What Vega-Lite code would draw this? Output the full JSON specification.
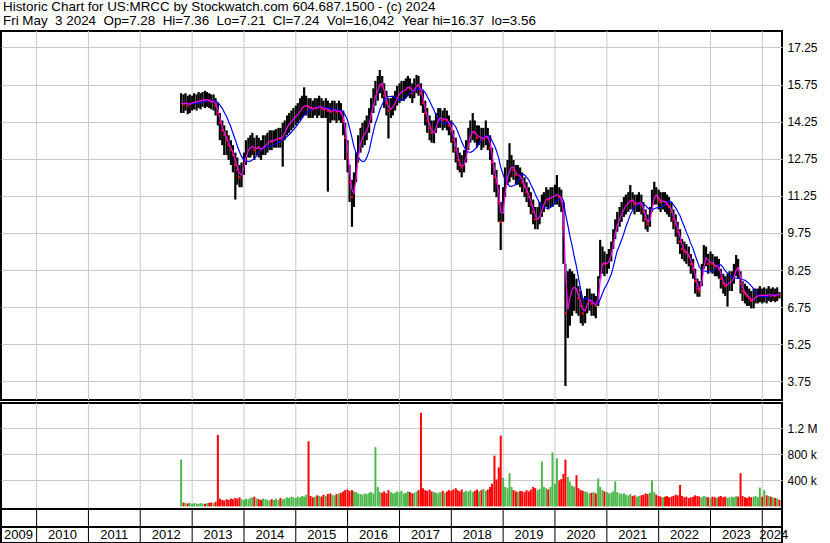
{
"$schema":"https://vega.github.io/schema/vega-lite/v6.json",
"padding":0,
"background":"white",
"bounds":"flush",
"config":{"view":{"stroke":"black","strokeWidth":2},"font":"Liberation Sans","axis":{"labelFont":"Liberation Sans","labelFontSize":12,"labelColor":"black","gridColor":"#c8c8c8","gridOpacity":1,"ticks":false,"domain":false,"title":null}},
"title":{"text":["Historic Chart for US:MRCC by Stockwatch.com 604.687.1500 - (c) 2024","Fri May\u00a0\u00a03 2024\u00a0\u00a0Op=7.28\u00a0\u00a0Hi=7.36\u00a0\u00a0Lo=7.21\u00a0\u00a0Cl=7.24\u00a0\u00a0Vol=16,042\u00a0\u00a0Year hi=16.37\u00a0\u00a0lo=3.56"],"anchor":"start","frame":"bounds","fontSize":13.4,"fontWeight":"normal","font":"Liberation Sans","color":"black","lineHeight":14,"offset":2,"dx":3},
"datasets":{
"px":[
{"d":"2012-10-15","h":15.4,"l":14.6,"c":15.0,"v":720000},
{"d":"2012-11-01","h":15.35,"l":14.6,"c":14.95,"v":60000},
{"d":"2012-11-15","h":15.4,"l":14.7,"c":15.05,"v":50000},
{"d":"2012-12-01","h":15.3,"l":14.55,"c":14.9,"v":45000},
{"d":"2012-12-15","h":15.35,"l":14.6,"c":15.0,"v":55000},
{"d":"2013-01-01","h":15.3,"l":14.7,"c":15.0,"v":40000},
{"d":"2013-01-15","h":15.4,"l":14.75,"c":15.05,"v":50000},
{"d":"2013-02-01","h":15.35,"l":14.7,"c":15.05,"v":45000},
{"d":"2013-02-15","h":15.45,"l":14.8,"c":15.1,"v":40000},
{"d":"2013-03-01","h":15.4,"l":14.75,"c":15.1,"v":50000},
{"d":"2013-03-15","h":15.45,"l":14.85,"c":15.15,"v":45000},
{"d":"2013-04-01","h":15.5,"l":14.8,"c":15.12,"v":40000},
{"d":"2013-04-15","h":15.45,"l":14.85,"c":15.15,"v":50000},
{"d":"2013-05-01","h":15.4,"l":14.8,"c":15.1,"v":55000},
{"d":"2013-05-15","h":15.35,"l":14.75,"c":15.05,"v":60000},
{"d":"2013-06-01","h":15.35,"l":14.7,"c":15.08,"v":50000},
{"d":"2013-06-15","h":15.2,"l":14.5,"c":14.9,"v":70000},
{"d":"2013-07-01","h":15.0,"l":14.1,"c":14.6,"v":1100000},
{"d":"2013-07-15","h":14.6,"l":13.5,"c":14.2,"v":120000},
{"d":"2013-08-01","h":14.3,"l":13.3,"c":13.9,"v":100000},
{"d":"2013-08-15","h":14.1,"l":12.9,"c":13.7,"v":90000},
{"d":"2013-09-01","h":13.9,"l":12.9,"c":13.5,"v":110000},
{"d":"2013-09-15","h":13.7,"l":12.7,"c":13.3,"v":100000},
{"d":"2013-10-01","h":13.5,"l":12.5,"c":13.1,"v":120000},
{"d":"2013-10-15","h":13.3,"l":12.2,"c":12.9,"v":110000},
{"d":"2013-11-01","h":13.0,"l":11.1,"c":12.5,"v":130000},
{"d":"2013-11-15","h":12.8,"l":11.7,"c":12.3,"v":120000},
{"d":"2013-12-01","h":12.5,"l":11.6,"c":12.0,"v":140000},
{"d":"2013-12-15","h":12.6,"l":11.6,"c":12.2,"v":110000},
{"d":"2014-01-01","h":13.0,"l":12.1,"c":12.6,"v":100000},
{"d":"2014-01-15","h":13.5,"l":12.5,"c":13.0,"v":120000},
{"d":"2014-02-01","h":13.6,"l":12.8,"c":13.2,"v":110000},
{"d":"2014-02-15","h":13.7,"l":12.8,"c":13.2,"v":130000},
{"d":"2014-03-01","h":13.8,"l":12.9,"c":13.3,"v":140000},
{"d":"2014-03-15","h":13.6,"l":12.7,"c":13.1,"v":150000},
{"d":"2014-04-01","h":13.7,"l":12.9,"c":13.25,"v":120000},
{"d":"2014-04-15","h":13.6,"l":12.8,"c":13.2,"v":110000},
{"d":"2014-05-01","h":13.5,"l":12.7,"c":13.1,"v":100000},
{"d":"2014-05-15","h":13.7,"l":12.9,"c":13.25,"v":120000},
{"d":"2014-06-01","h":13.7,"l":12.9,"c":13.3,"v":110000},
{"d":"2014-06-15","h":13.8,"l":13.0,"c":13.4,"v":100000},
{"d":"2014-07-01","h":13.9,"l":13.1,"c":13.5,"v":90000},
{"d":"2014-07-15","h":13.9,"l":13.1,"c":13.45,"v":110000},
{"d":"2014-08-01","h":13.9,"l":13.2,"c":13.5,"v":100000},
{"d":"2014-08-15","h":13.95,"l":13.2,"c":13.55,"v":120000},
{"d":"2014-09-01","h":14.0,"l":13.2,"c":13.6,"v":100000},
{"d":"2014-09-15","h":14.0,"l":13.2,"c":13.55,"v":130000},
{"d":"2014-10-01","h":14.2,"l":12.43,"c":13.7,"v":110000},
{"d":"2014-10-15","h":14.3,"l":13.5,"c":13.9,"v":120000},
{"d":"2014-11-01","h":14.5,"l":13.7,"c":14.1,"v":140000},
{"d":"2014-11-15","h":14.6,"l":13.8,"c":14.2,"v":130000},
{"d":"2014-12-01","h":14.7,"l":13.9,"c":14.3,"v":150000},
{"d":"2014-12-15","h":14.8,"l":14.0,"c":14.4,"v":140000},
{"d":"2015-01-01","h":14.9,"l":14.1,"c":14.5,"v":130000},
{"d":"2015-01-15","h":15.0,"l":14.2,"c":14.6,"v":150000},
{"d":"2015-02-01","h":15.2,"l":14.3,"c":14.75,"v":140000},
{"d":"2015-02-15","h":15.3,"l":14.4,"c":14.85,"v":160000},
{"d":"2015-03-01","h":15.64,"l":14.5,"c":14.9,"v":150000},
{"d":"2015-03-15","h":15.3,"l":14.5,"c":14.9,"v":180000},
{"d":"2015-04-01","h":15.2,"l":14.4,"c":14.85,"v":1000000},
{"d":"2015-04-15","h":15.2,"l":14.4,"c":14.8,"v":160000},
{"d":"2015-05-01","h":15.1,"l":14.4,"c":14.75,"v":140000},
{"d":"2015-05-15","h":15.2,"l":14.5,"c":14.85,"v":150000},
{"d":"2015-06-01","h":15.2,"l":14.4,"c":14.8,"v":170000},
{"d":"2015-06-15","h":15.3,"l":14.5,"c":14.9,"v":160000},
{"d":"2015-07-01","h":15.2,"l":14.4,"c":14.8,"v":150000},
{"d":"2015-07-15","h":15.1,"l":14.4,"c":14.75,"v":180000},
{"d":"2015-08-01","h":15.2,"l":14.4,"c":14.8,"v":160000},
{"d":"2015-08-15","h":15.1,"l":11.42,"c":14.7,"v":190000},
{"d":"2015-09-01","h":15.0,"l":14.2,"c":14.65,"v":200000},
{"d":"2015-09-15","h":15.1,"l":14.3,"c":14.7,"v":180000},
{"d":"2015-10-01","h":15.1,"l":14.3,"c":14.75,"v":170000},
{"d":"2015-10-15","h":15.0,"l":14.2,"c":14.65,"v":190000},
{"d":"2015-11-01","h":15.1,"l":14.3,"c":14.7,"v":200000},
{"d":"2015-11-15","h":15.0,"l":14.2,"c":14.6,"v":210000},
{"d":"2015-12-01","h":14.7,"l":13.7,"c":14.3,"v":230000},
{"d":"2015-12-15","h":14.2,"l":12.7,"c":13.6,"v":250000},
{"d":"2016-01-01","h":13.5,"l":12.2,"c":12.8,"v":260000},
{"d":"2016-01-15","h":12.5,"l":11.0,"c":11.8,"v":240000},
{"d":"2016-02-01","h":11.9,"l":10.0,"c":11.2,"v":250000},
{"d":"2016-02-15","h":12.2,"l":10.8,"c":11.5,"v":230000},
{"d":"2016-03-01","h":13.0,"l":11.8,"c":12.4,"v":220000},
{"d":"2016-03-15","h":13.7,"l":12.6,"c":13.2,"v":200000},
{"d":"2016-04-01","h":14.0,"l":13.0,"c":13.5,"v":190000},
{"d":"2016-04-15","h":14.2,"l":13.2,"c":13.7,"v":180000},
{"d":"2016-05-01","h":14.3,"l":13.3,"c":13.8,"v":200000},
{"d":"2016-05-15","h":14.5,"l":13.5,"c":14.0,"v":190000},
{"d":"2016-06-01","h":14.8,"l":13.8,"c":14.3,"v":210000},
{"d":"2016-06-15","h":15.2,"l":14.2,"c":14.7,"v":220000},
{"d":"2016-07-01","h":15.6,"l":14.6,"c":15.1,"v":200000},
{"d":"2016-07-15","h":15.9,"l":14.9,"c":15.4,"v":910000},
{"d":"2016-08-01","h":16.1,"l":15.1,"c":15.6,"v":300000},
{"d":"2016-08-15","h":16.34,"l":15.4,"c":15.9,"v":220000},
{"d":"2016-09-01","h":16.1,"l":15.2,"c":15.7,"v":210000},
{"d":"2016-09-15","h":15.8,"l":14.8,"c":15.3,"v":230000},
{"d":"2016-10-01","h":15.5,"l":14.5,"c":15.0,"v":200000},
{"d":"2016-10-15","h":15.2,"l":13.57,"c":14.7,"v":250000},
{"d":"2016-11-01","h":15.2,"l":14.4,"c":14.8,"v":220000},
{"d":"2016-11-15","h":15.3,"l":14.5,"c":14.9,"v":200000},
{"d":"2016-12-01","h":15.5,"l":14.7,"c":15.1,"v":210000},
{"d":"2016-12-15","h":15.7,"l":14.9,"c":15.3,"v":230000},
{"d":"2017-01-01","h":15.8,"l":15.0,"c":15.4,"v":220000},
{"d":"2017-01-15","h":15.9,"l":15.1,"c":15.5,"v":240000},
{"d":"2017-02-01","h":15.9,"l":15.1,"c":15.5,"v":200000},
{"d":"2017-02-15","h":16.0,"l":15.2,"c":15.6,"v":210000},
{"d":"2017-03-01","h":16.1,"l":15.3,"c":15.7,"v":230000},
{"d":"2017-03-15","h":16.0,"l":15.2,"c":15.6,"v":220000},
{"d":"2017-04-01","h":15.8,"l":15.0,"c":15.4,"v":200000},
{"d":"2017-04-15","h":16.0,"l":15.2,"c":15.6,"v":210000},
{"d":"2017-05-01","h":16.14,"l":15.4,"c":15.8,"v":230000},
{"d":"2017-05-15","h":16.1,"l":15.3,"c":15.7,"v":250000},
{"d":"2017-06-01","h":15.8,"l":14.9,"c":15.4,"v":1440000},
{"d":"2017-06-15","h":15.5,"l":14.6,"c":15.0,"v":280000},
{"d":"2017-07-01","h":15.1,"l":14.1,"c":14.6,"v":250000},
{"d":"2017-07-15","h":14.8,"l":13.8,"c":14.3,"v":240000},
{"d":"2017-08-01","h":14.5,"l":13.5,"c":14.0,"v":260000},
{"d":"2017-08-15","h":14.3,"l":13.4,"c":13.8,"v":230000},
{"d":"2017-09-01","h":14.3,"l":13.38,"c":13.8,"v":220000},
{"d":"2017-09-15","h":14.6,"l":13.8,"c":14.2,"v":210000},
{"d":"2017-10-01","h":14.8,"l":14.0,"c":14.4,"v":200000},
{"d":"2017-10-15","h":14.8,"l":14.0,"c":14.4,"v":220000},
{"d":"2017-11-01","h":14.7,"l":13.9,"c":14.3,"v":240000},
{"d":"2017-11-15","h":14.8,"l":14.0,"c":14.4,"v":210000},
{"d":"2017-12-01","h":14.7,"l":13.9,"c":14.3,"v":230000},
{"d":"2017-12-15","h":14.5,"l":13.7,"c":14.1,"v":250000},
{"d":"2018-01-01","h":14.3,"l":13.4,"c":13.9,"v":240000},
{"d":"2018-01-15","h":13.9,"l":13.0,"c":13.5,"v":260000},
{"d":"2018-02-01","h":13.6,"l":12.6,"c":13.1,"v":280000},
{"d":"2018-02-15","h":13.2,"l":12.3,"c":12.7,"v":250000},
{"d":"2018-03-01","h":13.0,"l":12.2,"c":12.5,"v":230000},
{"d":"2018-03-15","h":12.9,"l":12.0,"c":12.4,"v":260000},
{"d":"2018-04-01","h":13.1,"l":12.2,"c":12.6,"v":220000},
{"d":"2018-04-15","h":13.5,"l":12.6,"c":13.0,"v":240000},
{"d":"2018-05-01","h":14.0,"l":13.1,"c":13.5,"v":230000},
{"d":"2018-05-15","h":14.3,"l":13.4,"c":13.8,"v":250000},
{"d":"2018-06-01","h":14.6,"l":13.5,"c":13.9,"v":220000},
{"d":"2018-06-15","h":14.3,"l":13.4,"c":13.8,"v":240000},
{"d":"2018-07-01","h":14.1,"l":13.2,"c":13.6,"v":260000},
{"d":"2018-07-15","h":14.1,"l":13.3,"c":13.7,"v":230000},
{"d":"2018-08-01","h":14.0,"l":13.1,"c":13.5,"v":250000},
{"d":"2018-08-15","h":14.0,"l":13.2,"c":13.6,"v":270000},
{"d":"2018-09-01","h":14.3,"l":13.3,"c":13.7,"v":240000},
{"d":"2018-09-15","h":14.0,"l":13.1,"c":13.6,"v":260000},
{"d":"2018-10-01","h":13.7,"l":12.7,"c":13.2,"v":300000},
{"d":"2018-10-15","h":13.2,"l":12.1,"c":12.6,"v":350000},
{"d":"2018-11-01","h":12.6,"l":11.4,"c":12.0,"v":780000},
{"d":"2018-11-15","h":12.3,"l":11.2,"c":11.8,"v":415000},
{"d":"2018-12-01","h":11.7,"l":10.2,"c":11.0,"v":600000},
{"d":"2018-12-15","h":11.0,"l":9.06,"c":10.2,"v":1090000},
{"d":"2019-01-01","h":11.6,"l":10.2,"c":10.9,"v":440000},
{"d":"2019-01-15","h":12.4,"l":11.2,"c":11.8,"v":300000},
{"d":"2019-02-01","h":12.7,"l":11.7,"c":12.2,"v":280000},
{"d":"2019-02-15","h":13.38,"l":11.8,"c":12.3,"v":510000},
{"d":"2019-03-01","h":12.9,"l":12.0,"c":12.5,"v":300000},
{"d":"2019-03-15","h":12.7,"l":11.9,"c":12.3,"v":250000},
{"d":"2019-04-01","h":12.5,"l":11.7,"c":12.1,"v":230000},
{"d":"2019-04-15","h":12.5,"l":11.7,"c":12.1,"v":220000},
{"d":"2019-05-01","h":12.4,"l":11.6,"c":12.0,"v":240000},
{"d":"2019-05-15","h":12.2,"l":11.4,"c":11.8,"v":230000},
{"d":"2019-06-01","h":12.0,"l":11.2,"c":11.6,"v":220000},
{"d":"2019-06-15","h":11.8,"l":11.0,"c":11.4,"v":250000},
{"d":"2019-07-01","h":11.6,"l":10.8,"c":11.2,"v":230000},
{"d":"2019-07-15","h":11.4,"l":10.5,"c":10.9,"v":260000},
{"d":"2019-08-01","h":11.1,"l":10.1,"c":10.6,"v":300000},
{"d":"2019-08-15","h":10.8,"l":9.9,"c":10.3,"v":280000},
{"d":"2019-09-01","h":10.8,"l":9.9,"c":10.3,"v":250000},
{"d":"2019-09-15","h":11.0,"l":10.1,"c":10.5,"v":270000},
{"d":"2019-10-01","h":11.3,"l":10.4,"c":10.8,"v":690000},
{"d":"2019-10-15","h":11.4,"l":10.6,"c":11.0,"v":300000},
{"d":"2019-11-01","h":11.6,"l":10.8,"c":11.2,"v":280000},
{"d":"2019-11-15","h":11.5,"l":10.7,"c":11.1,"v":260000},
{"d":"2019-12-01","h":11.6,"l":10.8,"c":11.2,"v":300000},
{"d":"2019-12-15","h":11.6,"l":10.8,"c":11.2,"v":830000},
{"d":"2020-01-01","h":11.7,"l":10.9,"c":11.3,"v":350000},
{"d":"2020-01-15","h":12.09,"l":10.9,"c":11.3,"v":740000},
{"d":"2020-02-01","h":11.6,"l":10.8,"c":11.2,"v":400000},
{"d":"2020-02-15","h":11.5,"l":10.6,"c":11.1,"v":420000},
{"d":"2020-03-01","h":11.0,"l":8.5,"c":10.0,"v":500000},
{"d":"2020-03-15","h":8.5,"l":3.56,"c":6.5,"v":720000},
{"d":"2020-04-01","h":8.2,"l":5.5,"c":6.8,"v":450000},
{"d":"2020-04-15","h":8.3,"l":6.0,"c":7.4,"v":380000},
{"d":"2020-05-01","h":8.2,"l":6.4,"c":7.5,"v":320000},
{"d":"2020-05-15","h":8.1,"l":6.6,"c":7.6,"v":300000},
{"d":"2020-06-01","h":7.9,"l":6.5,"c":7.4,"v":480000},
{"d":"2020-06-15","h":7.6,"l":6.4,"c":7.1,"v":280000},
{"d":"2020-07-01","h":7.4,"l":6.1,"c":6.8,"v":250000},
{"d":"2020-07-15","h":7.1,"l":6.0,"c":6.5,"v":240000},
{"d":"2020-08-01","h":7.2,"l":6.1,"c":6.7,"v":230000},
{"d":"2020-08-15","h":7.5,"l":6.5,"c":7.0,"v":220000},
{"d":"2020-09-01","h":7.5,"l":6.6,"c":7.1,"v":200000},
{"d":"2020-09-15","h":7.3,"l":6.4,"c":6.9,"v":210000},
{"d":"2020-10-01","h":7.3,"l":6.4,"c":6.9,"v":220000},
{"d":"2020-10-15","h":7.2,"l":6.3,"c":6.8,"v":200000},
{"d":"2020-11-01","h":8.0,"l":6.8,"c":7.3,"v":430000},
{"d":"2020-11-15","h":9.47,"l":7.9,"c":8.4,"v":300000},
{"d":"2020-12-01","h":9.2,"l":8.1,"c":8.6,"v":250000},
{"d":"2020-12-15","h":9.0,"l":8.0,"c":8.5,"v":230000},
{"d":"2021-01-01","h":8.9,"l":8.1,"c":8.5,"v":220000},
{"d":"2021-01-15","h":9.1,"l":8.3,"c":8.7,"v":200000},
{"d":"2021-02-01","h":9.4,"l":8.6,"c":9.0,"v":210000},
{"d":"2021-02-15","h":9.9,"l":9.1,"c":9.5,"v":230000},
{"d":"2021-03-01","h":10.3,"l":9.5,"c":9.9,"v":385000},
{"d":"2021-03-15","h":10.6,"l":9.8,"c":10.2,"v":220000},
{"d":"2021-04-01","h":10.8,"l":10.0,"c":10.4,"v":200000},
{"d":"2021-04-15","h":11.0,"l":10.2,"c":10.6,"v":190000},
{"d":"2021-05-01","h":11.2,"l":10.4,"c":10.8,"v":200000},
{"d":"2021-05-15","h":11.3,"l":10.5,"c":10.9,"v":180000},
{"d":"2021-06-01","h":11.4,"l":10.6,"c":11.0,"v":170000},
{"d":"2021-06-15","h":11.69,"l":10.7,"c":11.1,"v":190000},
{"d":"2021-07-01","h":11.4,"l":10.7,"c":11.05,"v":160000},
{"d":"2021-07-15","h":11.3,"l":10.5,"c":10.9,"v":170000},
{"d":"2021-08-01","h":11.3,"l":10.6,"c":10.95,"v":150000},
{"d":"2021-08-15","h":11.4,"l":10.6,"c":11.0,"v":160000},
{"d":"2021-09-01","h":11.3,"l":10.5,"c":10.9,"v":170000},
{"d":"2021-09-15","h":11.0,"l":10.2,"c":10.6,"v":180000},
{"d":"2021-10-01","h":10.7,"l":9.9,"c":10.3,"v":200000},
{"d":"2021-10-15","h":10.5,"l":9.8,"c":10.1,"v":190000},
{"d":"2021-11-01","h":10.8,"l":10.0,"c":10.4,"v":210000},
{"d":"2021-11-15","h":11.5,"l":10.6,"c":11.0,"v":400000},
{"d":"2021-12-01","h":11.82,"l":10.9,"c":11.3,"v":220000},
{"d":"2021-12-15","h":11.6,"l":10.9,"c":11.25,"v":180000},
{"d":"2022-01-01","h":11.5,"l":10.7,"c":11.1,"v":160000},
{"d":"2022-01-15","h":11.4,"l":10.6,"c":11.0,"v":150000},
{"d":"2022-02-01","h":11.4,"l":10.7,"c":11.05,"v":140000},
{"d":"2022-02-15","h":11.4,"l":10.6,"c":11.0,"v":150000},
{"d":"2022-03-01","h":11.3,"l":10.5,"c":10.9,"v":160000},
{"d":"2022-03-15","h":11.2,"l":10.4,"c":10.8,"v":140000},
{"d":"2022-04-01","h":11.0,"l":10.2,"c":10.6,"v":150000},
{"d":"2022-04-15","h":10.7,"l":9.9,"c":10.3,"v":160000},
{"d":"2022-05-01","h":10.5,"l":9.6,"c":10.1,"v":180000},
{"d":"2022-05-15","h":10.2,"l":9.3,"c":9.8,"v":170000},
{"d":"2022-06-01","h":9.9,"l":8.9,"c":9.4,"v":330000},
{"d":"2022-06-15","h":9.5,"l":8.7,"c":9.1,"v":160000},
{"d":"2022-07-01","h":9.4,"l":8.6,"c":9.0,"v":140000},
{"d":"2022-07-15","h":9.3,"l":8.5,"c":8.95,"v":150000},
{"d":"2022-08-01","h":9.2,"l":8.4,"c":8.8,"v":130000},
{"d":"2022-08-15","h":8.9,"l":8.1,"c":8.5,"v":140000},
{"d":"2022-09-01","h":8.7,"l":7.9,"c":8.3,"v":150000},
{"d":"2022-09-15","h":8.3,"l":7.3,"c":7.8,"v":170000},
{"d":"2022-10-01","h":7.9,"l":7.17,"c":7.5,"v":160000},
{"d":"2022-10-15","h":7.8,"l":7.17,"c":7.4,"v":150000},
{"d":"2022-11-01","h":8.5,"l":7.6,"c":8.0,"v":140000},
{"d":"2022-11-15","h":9.26,"l":8.3,"c":8.7,"v":160000},
{"d":"2022-12-01","h":9.2,"l":8.4,"c":8.8,"v":150000},
{"d":"2022-12-15","h":8.9,"l":8.1,"c":8.5,"v":140000},
{"d":"2023-01-01","h":9.0,"l":8.2,"c":8.6,"v":130000},
{"d":"2023-01-15","h":8.9,"l":8.1,"c":8.5,"v":150000},
{"d":"2023-02-01","h":8.8,"l":8.0,"c":8.4,"v":140000},
{"d":"2023-02-15","h":8.8,"l":8.0,"c":8.45,"v":130000},
{"d":"2023-03-01","h":8.7,"l":7.9,"c":8.3,"v":150000},
{"d":"2023-03-15","h":8.3,"l":7.5,"c":7.9,"v":160000},
{"d":"2023-04-01","h":8.1,"l":7.3,"c":7.7,"v":140000},
{"d":"2023-04-15","h":8.0,"l":7.2,"c":7.6,"v":150000},
{"d":"2023-05-01","h":8.1,"l":6.77,"c":7.7,"v":130000},
{"d":"2023-05-15","h":8.2,"l":7.4,"c":7.8,"v":140000},
{"d":"2023-06-01","h":8.2,"l":7.4,"c":7.8,"v":150000},
{"d":"2023-06-15","h":8.5,"l":7.7,"c":8.1,"v":140000},
{"d":"2023-07-01","h":8.86,"l":8.0,"c":8.4,"v":160000},
{"d":"2023-07-15","h":8.7,"l":7.9,"c":8.3,"v":150000},
{"d":"2023-08-01","h":8.2,"l":7.3,"c":7.7,"v":510000},
{"d":"2023-08-15","h":7.8,"l":7.0,"c":7.4,"v":160000},
{"d":"2023-09-01","h":7.7,"l":6.9,"c":7.3,"v":140000},
{"d":"2023-09-15","h":7.6,"l":6.8,"c":7.2,"v":130000},
{"d":"2023-10-01","h":7.5,"l":6.8,"c":7.1,"v":150000},
{"d":"2023-10-15","h":7.4,"l":6.7,"c":7.0,"v":140000},
{"d":"2023-11-01","h":7.5,"l":6.7,"c":7.1,"v":150000},
{"d":"2023-11-15","h":7.5,"l":6.9,"c":7.2,"v":160000},
{"d":"2023-12-01","h":7.5,"l":6.9,"c":7.2,"v":140000},
{"d":"2023-12-15","h":7.6,"l":6.95,"c":7.25,"v":290000},
{"d":"2024-01-01","h":7.5,"l":6.9,"c":7.2,"v":150000},
{"d":"2024-01-15","h":7.55,"l":6.95,"c":7.25,"v":250000},
{"d":"2024-02-01","h":7.5,"l":6.9,"c":7.2,"v":170000},
{"d":"2024-02-15","h":7.6,"l":7.0,"c":7.3,"v":160000},
{"d":"2024-03-01","h":7.5,"l":6.95,"c":7.2,"v":150000},
{"d":"2024-03-15","h":7.55,"l":7.0,"c":7.25,"v":140000},
{"d":"2024-04-01","h":7.5,"l":6.95,"c":7.2,"v":130000},
{"d":"2024-04-15","h":7.55,"l":7.0,"c":7.3,"v":120000},
{"d":"2024-05-01","h":7.36,"l":7.1,"c":7.24,"v":100000}
],
"years":[{"yr":"2010"},{"yr":"2011"},{"yr":"2012"},{"yr":"2013"},{"yr":"2014"},{"yr":"2015"},{"yr":"2016"},{"yr":"2017"},{"yr":"2018"},{"yr":"2019"},{"yr":"2020"},{"yr":"2021"},{"yr":"2022"},{"yr":"2023"},{"yr":"2024"}],
"ends":[{"t":"2009"}]
},
"spacing":3,
"vconcat":[
{
"width":781,"height":369,
"encoding":{"x":{"field":"d","type":"temporal","scale":{"domain":[{"year":2009,"month":4,"date":25},{"year":2024,"month":5,"date":19}]},"axis":null}},
"layer":[
{"data":{"name":"years"},"mark":{"type":"rule","color":"#c8c8c8","strokeWidth":1},"encoding":{"x":{"field":"yr","timeUnit":"year","type":"temporal"}}},
{"data":{"name":"px"},
"transform":[
{"window":[{"op":"mean","field":"c","as":"m1"}],"frame":[-1,0],"sort":[{"field":"d"}]},
{"window":[{"op":"mean","field":"c","as":"m2"}],"frame":[-8,0],"sort":[{"field":"d"}]},
{"window":[{"op":"lag","field":"c","as":"pc"}],"sort":[{"field":"d"}]}
],
"layer":[
{"mark":{"type":"rule","color":"black","strokeWidth":2.2},"encoding":{"y":{"field":"h","type":"quantitative","scale":{"domain":[2.994,17.917],"nice":false,"zero":false},"axis":{"orient":"right","values":[3.75,4.5,5.25,6,6.75,7.5,8.25,9,9.75,10.5,11.25,12,12.75,13.5,14.25,15,15.75,16.5,17.25],"format":".2f","grid":true,"labelPadding":5}},"y2":{"field":"l"}}},
{"transform":[{"filter":"datum.pc != null && datum.c < datum.pc"}],"mark":{"type":"square","color":"#ff0000","size":5,"opacity":1},"encoding":{"y":{"field":"c","type":"quantitative"}}},
{"mark":{"type":"line","color":"#0000ff","strokeWidth":1.2},"encoding":{"y":{"field":"m2","type":"quantitative"}}},
{"mark":{"type":"line","color":"#ff00ff","strokeWidth":1.2},"encoding":{"y":{"field":"m1","type":"quantitative"}}}
]},
{"data":{"values":[{"t":"US:MRCC"}]},"mark":{"type":"text","align":"left","baseline":"top","dx":8,"dy":4,"fontSize":13,"color":"black","font":"Liberation Sans"},"encoding":{"x":{"datum":{"year":2009,"month":4,"date":25},"type":"temporal"},"y":{"datum":17.917,"type":"quantitative"},"text":{"field":"t"}}}
]
},
{
"spacing":0,
"bounds":"flush",
"vconcat":[
{
"width":781,"height":106,
"encoding":{"x":{"field":"d","type":"temporal","scale":{"domain":[{"year":2009,"month":4,"date":25},{"year":2024,"month":5,"date":19}]},"axis":null}},
"layer":[
{"data":{"name":"years"},"mark":{"type":"rule","color":"#c8c8c8","strokeWidth":1},"encoding":{"x":{"field":"yr","timeUnit":"year","type":"temporal"}}},
{"data":{"name":"px"},"transform":[{"window":[{"op":"lag","field":"c","as":"pc"}],"sort":[{"field":"d"}]}],"mark":{"type":"rule","strokeWidth":2},"encoding":{"y":{"field":"v","type":"quantitative","scale":{"domain":[-40000,1590000],"nice":false,"zero":false},"axis":{"orient":"right","values":[400000,800000,1200000],"grid":true,"labelPadding":5,"labelExpr":"datum.value >= 1000000 ? format(datum.value/1000000, '.1f') + ' M' : format(datum.value/1000, 'd') + ' k'"}},"y2":{"datum":0},"color":{"condition":{"test":"datum.pc == null || datum.c >= datum.pc","value":"#4cb84c"},"value":"#ff0000"}}},
{"data":{"values":[{"t":"Volume"}]},"mark":{"type":"text","align":"left","baseline":"top","dx":8,"dy":3,"fontSize":13,"color":"black","font":"Liberation Sans"},"encoding":{"x":{"datum":{"year":2009,"month":4,"date":25},"type":"temporal"},"y":{"datum":1590000,"type":"quantitative"},"text":{"field":"t"}}}
]
},
{
"width":781,"height":18,
"data":{"name":"years"},
"mark":{"type":"rule","color":"black","strokeWidth":1},
"encoding":{"x":{"field":"yr","timeUnit":"year","type":"temporal","scale":{"domain":[{"year":2009,"month":4,"date":25},{"year":2024,"month":5,"date":19}]},"axis":null}}
},
{
"width":781,"height":16,
"layer":[
{"data":{"name":"years"},"mark":{"type":"rule","color":"black","strokeWidth":1},"encoding":{"x":{"field":"yr","timeUnit":"year","type":"temporal","scale":{"domain":[{"year":2009,"month":4,"date":25},{"year":2024,"month":5,"date":19}]},"axis":null}}},
{"data":{"name":"years"},"mark":{"type":"text","fontSize":13,"color":"black","font":"Liberation Sans","baseline":"middle","align":"center"},"encoding":{"x":{"field":"yr","timeUnit":"year","type":"temporal","bandPosition":0.5},"text":{"field":"yr","timeUnit":"year","type":"temporal"},"opacity":{"condition":{"test":"year(datum.yr) >= 2024","value":0},"value":1}}},
{"data":{"name":"years"},"transform":[{"filter":"year(datum.yr) >= 2024"}],"mark":{"type":"text","fontSize":13,"color":"black","font":"Liberation Sans","baseline":"middle","align":"left","dx":-3},"encoding":{"x":{"field":"yr","timeUnit":"year","type":"temporal"},"text":{"field":"yr","timeUnit":"year","type":"temporal"}}},
{"data":{"name":"ends"},"mark":{"type":"text","fontSize":13,"color":"black","font":"Liberation Sans","baseline":"middle","align":"left","dx":3},"encoding":{"x":{"datum":{"year":2009,"month":4,"date":25},"type":"temporal"},"text":{"field":"t"}}}
]
}
]
}
]
}
